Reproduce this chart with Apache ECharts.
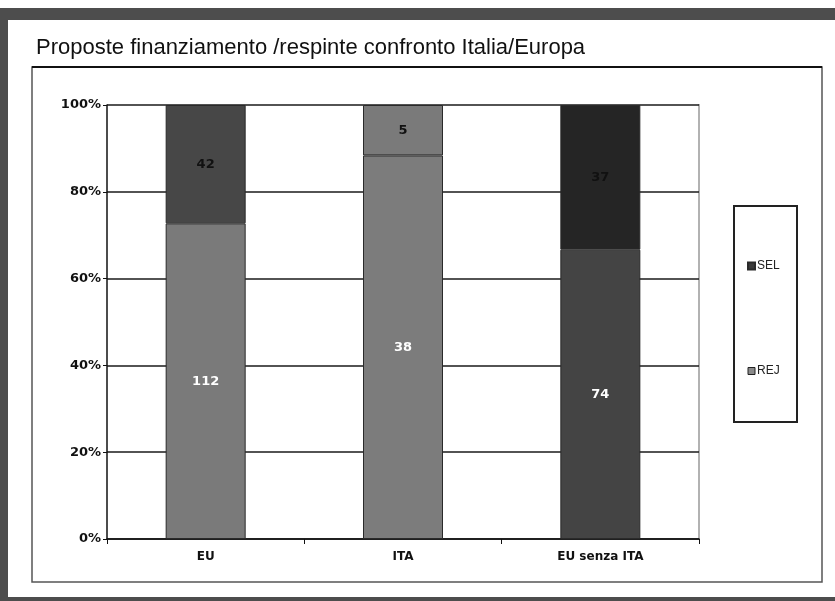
<!DOCTYPE html>
<html>
<head>
<meta charset="utf-8">
<script src="https://cdn.jsdelivr.net/npm/echarts@6/dist/echarts.min.js"></script>
<style>
  html, body { margin: 0; padding: 0; background: #ffffff; }
  #chart { width: 835px; height: 601px; }
</style>
</head>
<body>
<div id="chart"></div>
<script>
// ---- data ----
var titleText = 'Proposte finanziamento /respinte confronto Italia/Europa';
var categories = ['EU', 'ITA', 'EU senza ITA'];
var rejCounts = [112, 38, 74];
var selCounts = [42, 5, 37];
var yTicks = [0, 20, 40, 60, 80, 100];

// colours per bar
var rejColors = ['#7a7a7a', '#7c7c7c', '#444444'];
var selColors = ['#474747', '#7a7a7a', '#252525'];

var rejPct = rejCounts.map(function (v, i) { return v / (v + selCounts[i]) * 100; });
var selPct = selCounts.map(function (v, i) { return v / (rejCounts[i] + v) * 100; });

var chart = echarts.init(document.getElementById('chart'), null, { renderer: 'canvas' });

function mkData(pcts, counts, colors) {
  return pcts.map(function (p, i) {
    return { value: p, count: counts[i], itemStyle: { color: colors[i] } };
  });
}

var boldFont = 'DejaVu Sans, Liberation Sans, Arial, sans-serif';

var option = {
  backgroundColor: '#ffffff',
  animation: false,
  graphic: [
    { type: 'rect', silent: true, z: -10, shape: { x: 0, y: 8, width: 835, height: 593 },
      style: { fill: '#4d4d4d' } },
    { type: 'rect', silent: true, z: -9, shape: { x: 8, y: 20, width: 827, height: 577 },
      style: { fill: '#ffffff' } },
    { type: 'rect', silent: true, z: -8, shape: { x: 32, y: 67, width: 790, height: 515 },
      style: { fill: '#ffffff', stroke: '#555555', lineWidth: 1.5 } },
    { type: 'line', silent: true, z: -7, shape: { x1: 32, y1: 67, x2: 822, y2: 67 },
      style: { stroke: '#111111', lineWidth: 2 } },
    { type: 'line', silent: true, z: -6, shape: { x1: 699, y1: 104, x2: 699, y2: 539 },
      style: { stroke: '#999999', lineWidth: 1.5 } },
    { type: 'rect', silent: true, z: -5, shape: { x: 734, y: 206, width: 63, height: 216 },
      style: { fill: '#ffffff', stroke: '#222222', lineWidth: 2 } }
  ],
  title: {
    text: titleText,
    left: 31,
    top: 32,
    textStyle: { fontFamily: 'Liberation Sans, Arial, sans-serif', fontSize: 22, fontWeight: 'normal', color: '#111111' }
  },
  legend: {
    orient: 'vertical',
    left: 742,
    top: 255,
    itemGap: 93,
    itemWidth: 7,
    itemHeight: 7,
    icon: 'rect',
    data: [
      { name: 'SEL', itemStyle: { color: '#3a3a3a' } },
      { name: 'REJ', itemStyle: { color: '#8a8a8a', borderColor: '#222', borderWidth: 1 } }
    ],
    textStyle: { fontFamily: 'Liberation Sans, Arial, sans-serif', fontSize: 12, color: '#222222', padding: [0, 0, 0, -3] }
  },
  grid: { left: 107, right: 136, top: 105, bottom: 62, containLabel: false },
  xAxis: {
    type: 'category',
    data: categories,
    axisLine: { lineStyle: { color: '#111111', width: 1.5 } },
    axisTick: { show: true, length: 5, lineStyle: { color: '#111111' } },
    axisLabel: { margin: 12, fontFamily: boldFont, fontSize: 12, fontWeight: 'bold', color: '#111111' }
  },
  yAxis: {
    type: 'value',
    min: 0, max: 100, interval: 20,
    axisLine: { show: true, lineStyle: { color: '#111111', width: 1.5 } },
    axisTick: { show: true, length: 4, lineStyle: { color: '#111111' } },
    splitLine: { show: true, lineStyle: { color: '#1a1a1a', width: 1.5 } },
    axisLabel: { margin: 6, formatter: '{value}%', fontFamily: boldFont, fontSize: 13, fontWeight: 'bold', color: '#111111' }
  },
  series: [
    {
      name: 'REJ', type: 'bar', stack: 'tot', barWidth: 80,
      data: mkData(rejPct, rejCounts, rejColors),
      itemStyle: { borderColor: '#2a2a2a', borderWidth: 1 },
      label: { show: true, position: 'inside', formatter: function (p) { return p.data.count; },
        fontFamily: boldFont, fontSize: 13, fontWeight: 'bold', color: '#ffffff' }
    },
    {
      name: 'SEL', type: 'bar', stack: 'tot', barWidth: 80,
      data: mkData(selPct, selCounts, selColors),
      itemStyle: { borderColor: '#2a2a2a', borderWidth: 1 },
      label: { show: true, position: 'inside', formatter: function (p) { return p.data.count; },
        fontFamily: boldFont, fontSize: 13, fontWeight: 'bold', color: '#111111' }
    }
  ]
};
chart.setOption(option);
</script>
</body>
</html>
